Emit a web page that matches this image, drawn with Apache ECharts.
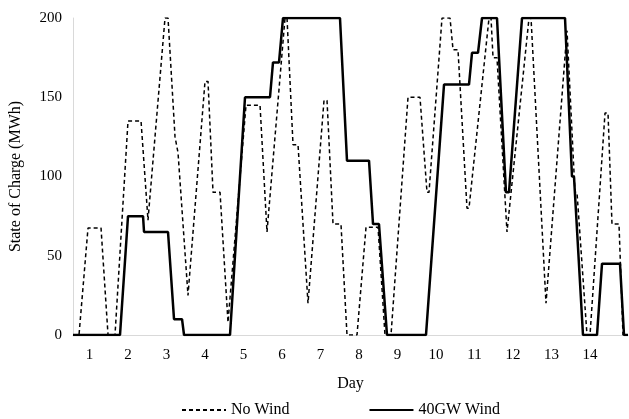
<!DOCTYPE html>
<html>
<head>
<meta charset="utf-8">
<script src="https://cdn.jsdelivr.net/npm/echarts@6/dist/echarts.min.js"></script>
<style>
html,body{margin:0;padding:0;background:#fff;}
#chart{width:629px;height:419px;}
</style>
</head>
<body>
<div id="chart"></div>
<script>
// Day ticks
var dayTicks = [1,2,3,4,5,6,7,8,9,10,11,12,13,14];

// No Wind series (day, MWh)
var noWindDay = [0.571,0.727,0.961,1.299,1.481,1.662,2.0,2.338,2.519,2.961,3.039,3.221,3.299,3.558,4.0,4.078,4.208,4.390,4.597,5.065,5.429,5.610,6.078,6.130,6.286,6.416,6.675,7.091,7.169,7.325,7.532,7.688,7.948,8.182,8.494,8.675,8.831,9.273,9.584,9.766,9.818,10.156,10.364,10.442,10.571,10.805,10.857,11.377,11.429,11.481,11.584,11.844,12.416,12.468,12.857,13.403,13.610,13.662,13.922,14.0,14.390,14.468,14.571,14.753,14.857,14.987];
var noWindSoc = [0,0,67.5,67.5,0,0,135,135,72.5,200,200,125,115,25,160,160,90,90,8,145,145,65,200,200,120,120,20,148,148,70,70,0,0,68,68,0,0,150,150,90,90,200,200,180,180,80,80,200,200,175,175,65,200,200,20,192,90,90,0,0,140,140,70,70,0,0];

// 40GW Wind series (day, MWh)
var windDay = [0.571,1.792,2.0,2.390,2.416,3.039,3.195,3.403,3.455,4.649,5.039,5.688,5.766,5.922,6.026,7.506,7.688,8.260,8.364,8.519,8.727,9.740,10.208,10.857,10.935,11.091,11.195,11.584,11.818,11.896,12.234,13.351,13.532,13.584,13.818,14.182,14.312,14.779,14.883,14.987];
var windSoc = [0,0,75,75,65,65,10,10,0,0,150,150,172,172,200,200,110,110,70,70,0,0,158,158,178,178,200,200,90,90,200,200,100,100,0,0,45,45,0,0];

function pairs(xs, ys){ return xs.map(function(x,i){ return [x, ys[i]]; }); }

var FONT = '"Liberation Serif","Times New Roman",serif';
var chart = echarts.init(document.getElementById('chart'), null, {renderer:'canvas'});
chart.setOption({
  animation:false,
  backgroundColor:'#fff',
  grid:{left:73,right:1,top:18,bottom:84,containLabel:false},
  legend:{
    left:176, top:397,
    itemWidth:44, itemHeight:14, itemGap:79,
    itemStyle:{opacity:0},
    textStyle:{fontFamily:FONT,fontSize:16,color:'#000'},
    data:['No Wind','40GW Wind']
  },
  xAxis:{
    type:'value', min:0.571, max:14.987,
    name:'Day', nameLocation:'middle', nameGap:41,
    nameTextStyle:{fontFamily:FONT,fontSize:16,color:'#000'},
    axisLine:{show:true,lineStyle:{color:'#d9d9d9',width:1}},
    axisTick:{show:false},
    splitLine:{show:false},
    axisLabel:{customValues:dayTicks,fontFamily:FONT,fontSize:15,color:'#000',margin:13}
  },
  yAxis:{
    type:'value', min:0, max:200, interval:50,
    name:'State of Charge (MWh)', nameLocation:'middle', nameGap:49,
    nameTextStyle:{fontFamily:FONT,fontSize:16,color:'#000'},
    axisLine:{show:true,lineStyle:{color:'#d9d9d9',width:1}},
    axisTick:{show:false},
    splitLine:{show:false},
    axisLabel:{fontFamily:FONT,fontSize:15,color:'#000',margin:11}
  },
  series:[
    {name:'No Wind',type:'line',symbol:'none',data:pairs(noWindDay,noWindSoc),
     lineStyle:{color:'#000',width:1.5,type:[4,3]},itemStyle:{color:'#000'}},
    {name:'40GW Wind',type:'line',symbol:'none',data:pairs(windDay,windSoc),
     lineStyle:{color:'#000',width:2.5,type:'solid'},itemStyle:{color:'#000'}}
  ]
});
</script>
</body>
</html>
